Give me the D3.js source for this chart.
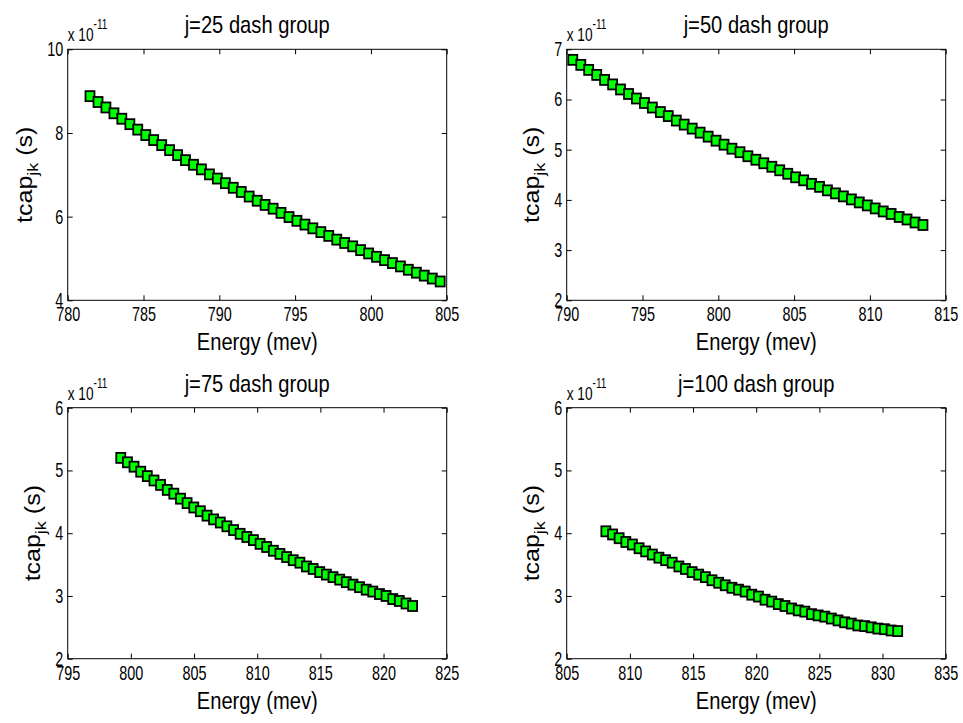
<!DOCTYPE html>
<html>
<head>
<meta charset="utf-8">
<script src="https://cdn.jsdelivr.net/npm/d3@7"></script>
<style>
  body { margin: 0; background: #fff; }
  svg { display: block; }
  text { font-family: "Liberation Sans", Arial, Helvetica, sans-serif; fill: #000; }
</style>
</head>
<body>
<div id="chart"></div>
<script>
// DATA (tcap values are in units of 1e-11 s)
const titles = ["j=25 dash group", "j=50 dash group", "j=75 dash group", "j=100 dash group"];
const xDomains = [[780, 805], [790, 815], [795, 825], [805, 835]];
const yDomains = [[4, 10], [2, 7], [2, 6], [2, 6]];
const xTicks = [
  [780, 785, 790, 795, 800, 805],
  [790, 795, 800, 805, 810, 815],
  [795, 800, 805, 810, 815, 820, 825],
  [805, 810, 815, 820, 825, 830, 835]
];
const yTicks = [[4, 6, 8, 10], [2, 3, 4, 5, 6, 7], [2, 3, 4, 5, 6], [2, 3, 4, 5, 6]];

const energy25 = [781.47, 782.00, 782.52, 783.05, 783.57, 784.10, 784.62, 785.15, 785.67, 786.20,
  786.72, 787.25, 787.77, 788.30, 788.82, 789.35, 789.87, 790.40, 790.92, 791.45,
  791.97, 792.50, 793.02, 793.55, 794.07, 794.60, 795.12, 795.65, 796.17, 796.70,
  797.22, 797.75, 798.27, 798.80, 799.32, 799.85, 800.37, 800.90, 801.42, 801.95,
  802.47, 803.00, 803.52, 804.05, 804.57];
const tcap25 = [8.88, 8.74, 8.61, 8.47, 8.34, 8.21, 8.08, 7.95, 7.83, 7.71,
  7.59, 7.47, 7.35, 7.24, 7.13, 7.01, 6.91, 6.80, 6.69, 6.59,
  6.48, 6.38, 6.28, 6.19, 6.09, 5.99, 5.90, 5.81, 5.72, 5.63,
  5.54, 5.45, 5.37, 5.29, 5.20, 5.12, 5.04, 4.96, 4.89, 4.81,
  4.73, 4.66, 4.59, 4.52, 4.45];

const energy50 = [790.40, 790.93, 791.45, 791.98, 792.50, 793.03, 793.55, 794.08, 794.60, 795.13,
  795.65, 796.18, 796.70, 797.23, 797.75, 798.28, 798.80, 799.33, 799.85, 800.38,
  800.90, 801.43, 801.95, 802.48, 803.00, 803.53, 804.05, 804.58, 805.10, 805.63,
  806.15, 806.68, 807.20, 807.73, 808.25, 808.78, 809.30, 809.83, 810.35, 810.88,
  811.40, 811.93, 812.45, 812.98, 813.50];
const tcap50 = [6.79, 6.69, 6.59, 6.49, 6.39, 6.30, 6.20, 6.11, 6.02, 5.93,
  5.84, 5.75, 5.67, 5.58, 5.50, 5.42, 5.34, 5.26, 5.18, 5.10,
  5.02, 4.95, 4.87, 4.80, 4.73, 4.66, 4.59, 4.52, 4.45, 4.39,
  4.32, 4.26, 4.19, 4.13, 4.07, 4.01, 3.95, 3.89, 3.83, 3.77,
  3.72, 3.66, 3.61, 3.55, 3.50];

const energy75 = [799.20, 799.73, 800.25, 800.78, 801.30, 801.83, 802.35, 802.88, 803.40, 803.93,
  804.45, 804.98, 805.50, 806.03, 806.55, 807.08, 807.60, 808.13, 808.65, 809.18,
  809.70, 810.23, 810.75, 811.28, 811.80, 812.33, 812.85, 813.38, 813.90, 814.43,
  814.95, 815.48, 816.00, 816.53, 817.05, 817.58, 818.10, 818.63, 819.15, 819.68,
  820.20, 820.73, 821.25, 821.78, 822.30];
const tcap75 = [5.20, 5.13, 5.06, 4.98, 4.91, 4.84, 4.77, 4.69, 4.63, 4.55,
  4.48, 4.41, 4.35, 4.28, 4.22, 4.17, 4.11, 4.05, 3.99, 3.94,
  3.89, 3.83, 3.78, 3.72, 3.67, 3.62, 3.57, 3.53, 3.47, 3.43,
  3.38, 3.34, 3.30, 3.26, 3.22, 3.18, 3.14, 3.10, 3.07, 3.03,
  3.00, 2.95, 2.92, 2.88, 2.84];

const energy100 = [808.10, 808.63, 809.15, 809.68, 810.20, 810.73, 811.25, 811.78, 812.30, 812.83,
  813.35, 813.88, 814.40, 814.93, 815.45, 815.98, 816.50, 817.03, 817.55, 818.08,
  818.60, 819.13, 819.65, 820.18, 820.70, 821.23, 821.75, 822.28, 822.80, 823.33,
  823.85, 824.38, 824.90, 825.43, 825.95, 826.48, 827.00, 827.53, 828.05, 828.58,
  829.10, 829.63, 830.15, 830.68, 831.20];
const tcap100 = [4.03, 3.98, 3.92, 3.86, 3.82, 3.76, 3.71, 3.66, 3.61, 3.57,
  3.53, 3.47, 3.43, 3.38, 3.34, 3.30, 3.25, 3.21, 3.17, 3.13,
  3.10, 3.07, 3.02, 2.99, 2.94, 2.91, 2.87, 2.84, 2.80, 2.77,
  2.75, 2.71, 2.69, 2.67, 2.64, 2.61, 2.58, 2.56, 2.53, 2.52,
  2.50, 2.48, 2.47, 2.45, 2.44];

const energies = [energy25, energy50, energy75, energy100];
const tcaps = [tcap25, tcap50, tcap75, tcap100];

// LAYOUT
const width = 963, height = 723;
const colLeft = [67.7, 566.7];
const rowTop = [49.3, 407.7];
const axW = 379, axH = 251;
const sx = 0.72;      // narrow look of the tick font
const tickFont = 20;
const labelSx = 0.84;

const svg = d3.select("#chart").append("svg")
  .attr("width", width)
  .attr("height", height)
  .attr("viewBox", [0, 0, width, height]);

svg.append("rect").attr("width", width).attr("height", height).attr("fill", "#fff");

titles.forEach((title, i) => {
  const left = colLeft[i % 2], top = rowTop[Math.floor(i / 2)];
  const x = d3.scaleLinear(xDomains[i], [0, axW]);
  const y = d3.scaleLinear(yDomains[i], [axH, 0]);
  const g = svg.append("g").attr("transform", `translate(${left},${top})`);

  // bottom axis with labels, ticks pointing inward
  g.append("g")
    .attr("transform", `translate(0,${axH})`)
    .call(d3.axisBottom(x).tickValues(xTicks[i]).tickFormat(d3.format("d"))
      .tickSizeInner(-5).tickSizeOuter(0).tickPadding(7))
    .call(a => a.select(".domain").remove())
    .call(a => a.selectAll(".tick line").attr("stroke", "#000"))
    .call(a => a.selectAll(".tick text")
      .attr("font-size", tickFont)
      .attr("transform", `scale(${sx},1)`));

  // top axis, ticks only
  g.append("g")
    .call(d3.axisTop(x).tickValues(xTicks[i]).tickSizeInner(-5).tickSizeOuter(0).tickFormat(""))
    .call(a => a.select(".domain").remove())
    .call(a => a.selectAll(".tick line").attr("stroke", "#000"));

  // left axis with labels
  g.append("g")
    .call(d3.axisLeft(y).tickValues(yTicks[i]).tickFormat(d3.format("d"))
      .tickSizeInner(-5).tickSizeOuter(0).tickPadding(5))
    .call(a => a.select(".domain").remove())
    .call(a => a.selectAll(".tick line").attr("stroke", "#000"))
    .call(a => a.selectAll(".tick text")
      .attr("font-size", tickFont)
      .attr("x", -4.5 / sx)
      .attr("transform", `scale(${sx},1)`));

  // right axis, ticks only
  g.append("g")
    .attr("transform", `translate(${axW},0)`)
    .call(d3.axisRight(y).tickValues(yTicks[i]).tickSizeInner(-5).tickSizeOuter(0).tickFormat(""))
    .call(a => a.select(".domain").remove())
    .call(a => a.selectAll(".tick line").attr("stroke", "#000"));

  // box
  g.append("rect")
    .attr("width", axW).attr("height", axH)
    .attr("fill", "none").attr("stroke", "#000").attr("stroke-width", 1);

  // markers
  const pts = d3.zip(energies[i], tcaps[i]);
  g.append("g")
    .selectAll("rect")
    .data(pts)
    .join("rect")
      .attr("x", d => x(d[0]) - 4.5)
      .attr("y", d => y(d[1]) - 5)
      .attr("width", 9)
      .attr("height", 10)
      .attr("fill", "#00ff00")
      .attr("stroke", "#000")
      .attr("stroke-width", 1.8);

  // exponent label "x 10^-11"
  const ex = g.append("text")
    .attr("transform", `translate(0,-8) scale(${sx},1)`)
    .attr("font-size", 19);
  ex.append("tspan").text("x 10");
  ex.append("tspan").attr("dy", -12).attr("font-size", 14).text("-11");

  // title
  g.append("text")
    .attr("transform", `translate(${axW / 2},-16) scale(${labelSx},1)`)
    .attr("text-anchor", "middle")
    .attr("font-size", 24)
    .text(title);

  // x label
  g.append("text")
    .attr("transform", `translate(${axW / 2},${axH + 50}) scale(${labelSx},1)`)
    .attr("text-anchor", "middle")
    .attr("font-size", 24)
    .text("Energy (mev)");

  // y label, pushed further out when tick labels have two digits
  const wide = d3.max(yTicks[i], t => String(t).length) > 1;
  const yl = g.append("text")
    .attr("transform", `translate(${wide ? -36 : -28},${axH / 2}) rotate(-90) scale(1,0.85)`)
    .attr("text-anchor", "middle")
    .attr("font-size", 25);
  yl.append("tspan").text("tcap");
  yl.append("tspan").attr("dy", 7).attr("font-size", 18).text("jk");
  yl.append("tspan").attr("dy", -7).text(" (s)");
});
</script>
</body>
</html>
